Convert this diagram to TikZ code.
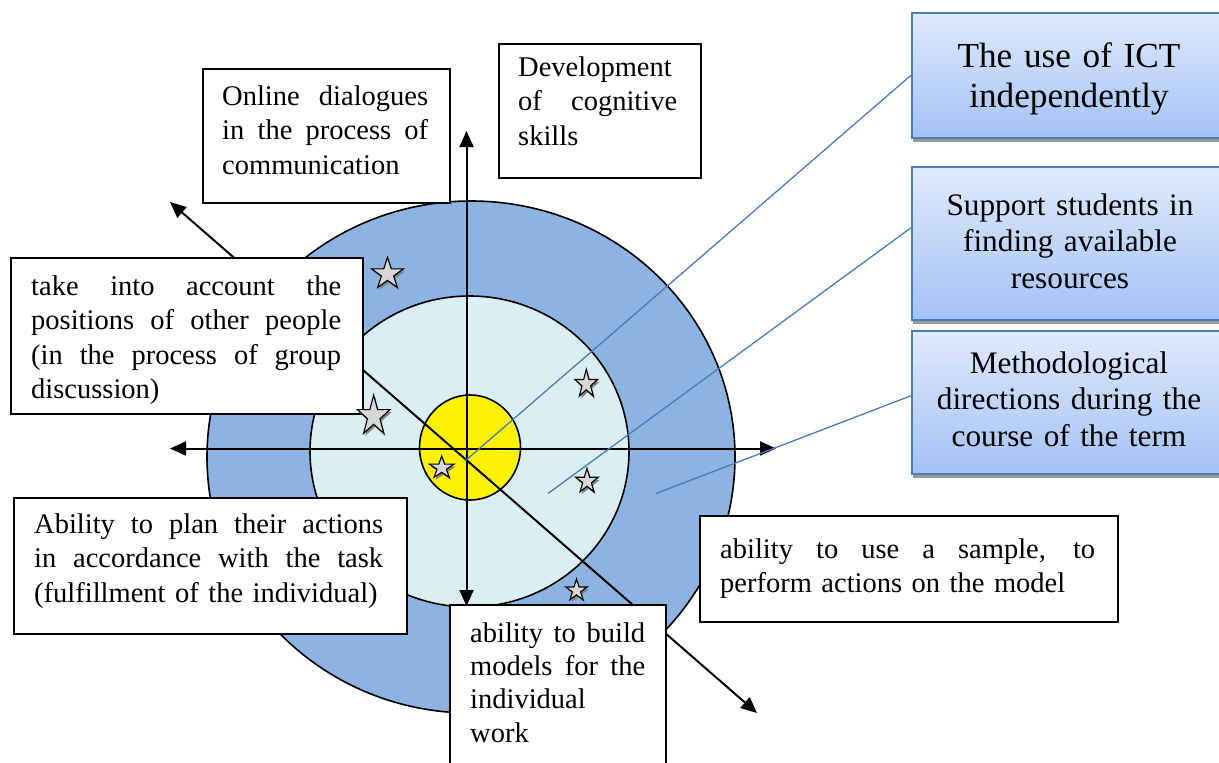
\documentclass[tikz,border=0pt]{standalone}
\usepackage{fontspec}
\setmainfont{Liberation Serif}
\usetikzlibrary{arrows.meta,calc,shadows,shapes.geometric}

\definecolor{outerblue}{RGB}{141,179,226}
\definecolor{innerblue}{RGB}{218,238,243}
\definecolor{linkblue}{RGB}{74,126,187}
\definecolor{gradtop}{RGB}{224,234,252}
\definecolor{gradbot}{RGB}{163,194,245}
\definecolor{stargray}{RGB}{215,215,215}

\newcommand\jl[2]{\noindent\hbox to #1{\spaceskip=0.25em plus 10em minus 0.05em\relax #2}}
\newcommand\starpath{(-90:1) -- (-54:0.382) -- (-18:1) -- (18:0.382) -- (54:1) -- (90:0.382) -- (126:1) -- (162:0.382) -- (198:1) -- (234:0.382) -- cycle}
\newcommand\drawstar[4]{%
  \fill[black!50, shift={(#1+1.5,#2+2.5)}, xscale=#3, yscale=#4] \starpath;
  \draw[fill=stargray, line width=1.1pt, line join=miter, shift={(#1,#2)}, xscale=#3, yscale=#4] \starpath;
}

\begin{document}
\begin{tikzpicture}[x=1pt,y=-1pt,
  ring/.style={draw=black, line width=1.6pt, ellipse, inner sep=0pt},
  axis/.style={line width=2pt, {Triangle[length=16pt,width=14pt]}-{Triangle[length=16pt,width=14pt]}},
  link/.style={draw=linkblue, line width=1.3pt},
  plainbox/.style={draw=black, line width=2pt, fill=white, rectangle, inner sep=0pt, anchor=north west},
  bluebox/.style={draw=linkblue, line width=1.5pt, top color=gradtop, bottom color=gradbot, rectangle, inner sep=0pt, anchor=north west,
     drop shadow={shadow xshift=1.5pt, shadow yshift=-4pt, fill=black!40, opacity=1}},
  bodytext/.style={inner sep=0pt, anchor=base west, align=left, font=\fontsize{28.5}{34.5}\selectfont},
  sidetext/.style={inner sep=0pt, anchor=base, align=center, text width=300pt, font=\fontsize{31.3}{36.8}\selectfont},
]
\useasboundingbox (0,0) rectangle (1219,763);
\clip (0,0) rectangle (1219,763);

% rings
\node[ring, fill=outerblue, minimum width=528pt, minimum height=512pt] (outer) at (471,457) {};
\node[ring, fill=innerblue, minimum width=319pt, minimum height=311pt] (inner) at (469.5,451.5) {};
\node[ring, fill=yellow, minimum width=101pt, minimum height=105pt] (core) at (470,447.5) {};

% axes
\coordinate (hl) at (170,448.5);
\coordinate (hr) at (776,448.5);
\coordinate (vt) at (466.5,131);
\coordinate (vb) at (466.5,606);
\coordinate (dl) at (170,202);
\coordinate (dr) at (757,713);
\draw[axis] (hl) -- (hr);
\draw[axis] (vt) -- (vb);
\draw[axis] (dl) -- (dr);

% right boxes
\node[bluebox, minimum width=317pt, minimum height=125pt] (ict) at (911,12) {};
\node[bluebox, minimum width=317pt, minimum height=153pt] (sup) at (911,166) {};
\node[bluebox, minimum width=317pt, minimum height=143pt] (meth) at (911,330) {};

\node[inner sep=0pt, anchor=base, align=center, text width=300pt, font=\fontsize{35.2}{40}\selectfont] (ictt) at (1069,67) {The use of ICT\\independently};
\node[sidetext] (supt) at (1070,215) {Support students in\\finding available\\resources};
\node[sidetext] (metht) at (1069,373) {Methodological\\directions during the\\course of the term};

% blue link lines
\coordinate (s1) at (465,461);
\coordinate (s2) at (548,493.5);
\coordinate (s3) at (656,493.5);
\draw[link] (s1) -- (ict.west);
\draw[link] (s2) -- ([yshift=15.5pt]sup.west);
\draw[link] (s3) -- ([yshift=6.5pt]meth.west);

% plain boxes
\node[plainbox, minimum width=247pt, minimum height=134pt] (online) at (202,68) {};
\node[plainbox, minimum width=202pt, minimum height=134pt] (devel) at (498,43) {};
\node[plainbox, minimum width=352pt, minimum height=156pt] (take) at (10,257) {};
\node[plainbox, minimum width=393pt, minimum height=136pt] (abil) at (13,497) {};
\node[plainbox, minimum width=418pt, minimum height=106pt] (samp) at (699,515) {};
\node[plainbox, minimum width=216pt, minimum height=175pt] (mod) at (449,604) {};

\node[bodytext, text width=206pt] (onlinet) at (222,105) {\jl{206pt}{Online dialogues}\\\jl{206pt}{in the process of}\\communication};
\node[bodytext, text width=159pt] (develt) at (518,76) {Development\\\jl{159pt}{of cognitive}\\skills};
\node[bodytext, text width=310pt] (taket) at (31,295) {\jl{310pt}{take into account the}\\\jl{310pt}{positions of other people}\\\jl{310pt}{(in the process of group}\\discussion)};
\node[bodytext, text width=352pt] (abilt) at (34,533) {\jl{349pt}{Ability to plan their actions}\\\jl{349pt}{in accordance with the task}\\(fulfillment of the individual)};
\node[bodytext, text width=375pt] (sampt) at (720,558) {\jl{375pt}{ability to use a sample, to}\\perform actions on the model};
\node[bodytext, text width=175pt, font=\fontsize{28.5}{33.4}\selectfont] (modt) at (470,642) {\jl{175pt}{ability to build}\\\jl{175pt}{models for the}\\individual\\work};

% stars
\drawstar{387.5}{274}{16.8}{16.6}
\drawstar{373.7}{416.2}{17.2}{21.2}
\drawstar{586.3}{384.1}{11.9}{14.8}
\drawstar{441.7}{467.8}{13}{11.8}
\drawstar{587}{481.3}{11.9}{13}
\drawstar{576.5}{590.5}{11.3}{11.5}
\end{tikzpicture}
\end{document}
